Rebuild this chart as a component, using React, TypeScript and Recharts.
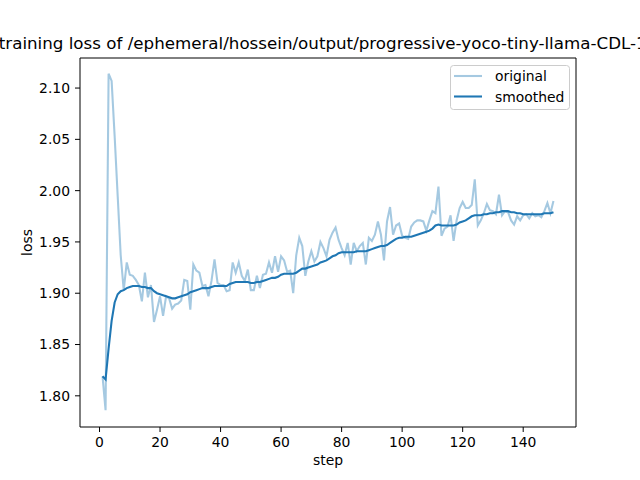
import { LineChart, Line, XAxis, YAxis, Legend, ReferenceLine } from "recharts";

const steps = Array.from({ length: 150 }, (_, i) => i + 1);

const original = [
  1.819, 1.786, 2.114, 2.107, 2.053, 1.995, 1.937, 1.903, 1.93, 1.918,
  1.917, 1.913, 1.908, 1.892, 1.92, 1.896, 1.908, 1.872, 1.884, 1.897,
  1.878, 1.897, 1.895, 1.885, 1.889, 1.89, 1.893, 1.913, 1.912, 1.884,
  1.928, 1.922, 1.92, 1.907, 1.908, 1.897, 1.912, 1.933, 1.91, 1.908,
  1.908, 1.902, 1.903, 1.93, 1.92, 1.93, 1.917, 1.912, 1.923, 1.903,
  1.903, 1.917, 1.905, 1.918, 1.919, 1.93, 1.92, 1.936, 1.921, 1.936,
  1.932, 1.921, 1.922, 1.9, 1.937, 1.954, 1.946, 1.917, 1.931, 1.941,
  1.931, 1.936, 1.95, 1.944, 1.936, 1.952, 1.959, 1.964, 1.952, 1.944,
  1.937, 1.949, 1.928, 1.949, 1.941, 1.946, 1.949, 1.928, 1.954, 1.951,
  1.957, 1.97, 1.957, 1.932, 1.97, 1.984, 1.957, 1.966, 1.968, 1.956,
  1.954, 1.953, 1.965, 1.969, 1.971, 1.971, 1.97, 1.961, 1.971, 1.98,
  1.978, 2.004, 1.956, 1.963, 1.965, 1.976, 1.951, 1.971, 1.983, 1.989,
  1.983, 1.983, 1.986, 2.011, 1.966, 1.971, 1.978, 1.987, 1.981, 1.98,
  1.977, 1.996, 1.976, 1.98, 1.979, 1.971, 1.967, 1.975, 1.971, 1.976,
  1.977, 1.973, 1.978, 1.975, 1.976, 1.974, 1.98, 1.988, 1.978, 1.99,
];

const smoothed = [
  1.819, 1.816, 1.846, 1.873, 1.891, 1.899, 1.902, 1.903, 1.905, 1.906,
  1.907, 1.907, 1.907, 1.906, 1.906, 1.905, 1.905, 1.902, 1.9, 1.899,
  1.898, 1.897, 1.896, 1.895, 1.895, 1.896, 1.897, 1.898, 1.899, 1.901,
  1.902, 1.903, 1.904, 1.905, 1.905, 1.905, 1.906, 1.907, 1.907, 1.907,
  1.907, 1.907, 1.909, 1.91, 1.911, 1.911, 1.911, 1.911, 1.911, 1.91,
  1.91, 1.911, 1.911, 1.912, 1.913, 1.914, 1.915, 1.915, 1.916, 1.918,
  1.919, 1.919, 1.919, 1.919, 1.92, 1.922, 1.924, 1.924, 1.925, 1.926,
  1.927, 1.928, 1.93, 1.931, 1.932, 1.934, 1.936, 1.937, 1.939, 1.94,
  1.94, 1.94, 1.94, 1.94, 1.941, 1.941, 1.941, 1.941, 1.942, 1.943,
  1.944, 1.945, 1.946, 1.946, 1.947, 1.949, 1.951, 1.953, 1.954, 1.954,
  1.955, 1.955, 1.955, 1.956, 1.957, 1.958, 1.959, 1.96, 1.961, 1.963,
  1.966, 1.967, 1.966, 1.966, 1.966, 1.966, 1.966, 1.967, 1.969, 1.97,
  1.971, 1.973, 1.975, 1.976, 1.976, 1.976, 1.977, 1.977, 1.978, 1.978,
  1.979, 1.979, 1.98, 1.98, 1.98, 1.979, 1.979, 1.978, 1.978, 1.977,
  1.977, 1.977, 1.977, 1.977, 1.977, 1.977, 1.978, 1.978, 1.978, 1.979,
];

const xTicks = [0, 20, 40, 60, 80, 100, 120, 140];
const yTicks = [1.8, 1.85, 1.9, 1.95, 2.0, 2.05, 2.1];

const title = "training loss of /ephemeral/hossein/output/progressive-yoco-tiny-llama-CDL-16";

const data = steps.map((step, i) => ({ step, original: original[i], smoothed: smoothed[i] }));

const X_DOMAIN: [number, number] = [-6.45, 157.45];
const Y_DOMAIN: [number, number] = [1.7696, 2.1293];

const font = "'DejaVu Sans', sans-serif";
const blue = "#1f77b4";

function LegendBox() {
  const rows = [
    { label: "original", opacity: 0.4 },
    { label: "smoothed", opacity: 1 },
  ];
  return (
    <svg width={121} height={46} style={{ display: "block" }}>
      <rect x={0.5} y={0.5} width={119} height={44} rx={3} fill="#fff" fillOpacity={0.8} stroke="#cccccc" />
      {rows.map((r, i) => (
        <g key={r.label}>
          <line x1={4} x2={32} y1={11 + i * 20.5} y2={11 + i * 20.5} stroke={blue} strokeOpacity={r.opacity} strokeWidth={2.08} />
          <text x={45} y={16 + i * 20.5} fontSize={13.9} fontFamily={font} fill="#000">
            {r.label}
          </text>
        </g>
      ))}
    </svg>
  );
}

export default function App() {
  return (
    <div style={{ position: "absolute", left: 0, top: 0, width: 640, height: 480, background: "#fff" }}>
      <LineChart width={640} height={480} data={data} margin={{ top: 58, right: 64, bottom: 0, left: 0 }}>
        <XAxis
          dataKey="step"
          type="number"
          domain={X_DOMAIN}
          allowDataOverflow
          ticks={xTicks}
          height={53}
          stroke="#000"
          tickSize={5}
          tickMargin={5}
          tick={{ fill: "#000", fontSize: 13.9, fontFamily: font }}
        />
        <YAxis
          type="number"
          domain={Y_DOMAIN}
          allowDataOverflow
          ticks={yTicks}
          width={80}
          stroke="#000"
          tickSize={5}
          tickMargin={5}
          tickFormatter={(v: number) => v.toFixed(2)}
          tick={{ fill: "#000", fontSize: 13.9, fontFamily: font }}
        />
        <ReferenceLine y={Y_DOMAIN[1]} stroke="#000" strokeWidth={1} />
        <ReferenceLine x={X_DOMAIN[1]} stroke="#000" strokeWidth={1} />
        <Line
          dataKey="original"
          name="original"
          type="linear"
          stroke={blue}
          strokeOpacity={0.4}
          strokeWidth={2.08}
          dot={false}
          isAnimationActive={false}
        />
        <Line
          dataKey="smoothed"
          name="smoothed"
          type="linear"
          stroke={blue}
          strokeWidth={2.08}
          dot={false}
          isAnimationActive={false}
        />
        <Legend
          layout="vertical"
          align="center"
          verticalAlign="middle"
          content={() => <LegendBox />}
          wrapperStyle={{ left: 450, top: 65, width: 121, height: 46 }}
        />
      </LineChart>
      <svg width={640} height={480} style={{ position: "absolute", left: 0, top: 0, pointerEvents: "none" }}>
        <text x={328} y={49} textAnchor="middle" fontSize={16.7} fontFamily={font} fill="#000">
          {title}
        </text>
        <text x={328} y={465} textAnchor="middle" fontSize={13.9} fontFamily={font} fill="#000">
          step
        </text>
        <text
          x={0}
          y={0}
          transform="translate(31.5 242.5) rotate(-90)"
          textAnchor="middle"
          fontSize={13.9}
          fontFamily={font}
          fill="#000"
        >
          loss
        </text>
      </svg>
    </div>
  );
}
